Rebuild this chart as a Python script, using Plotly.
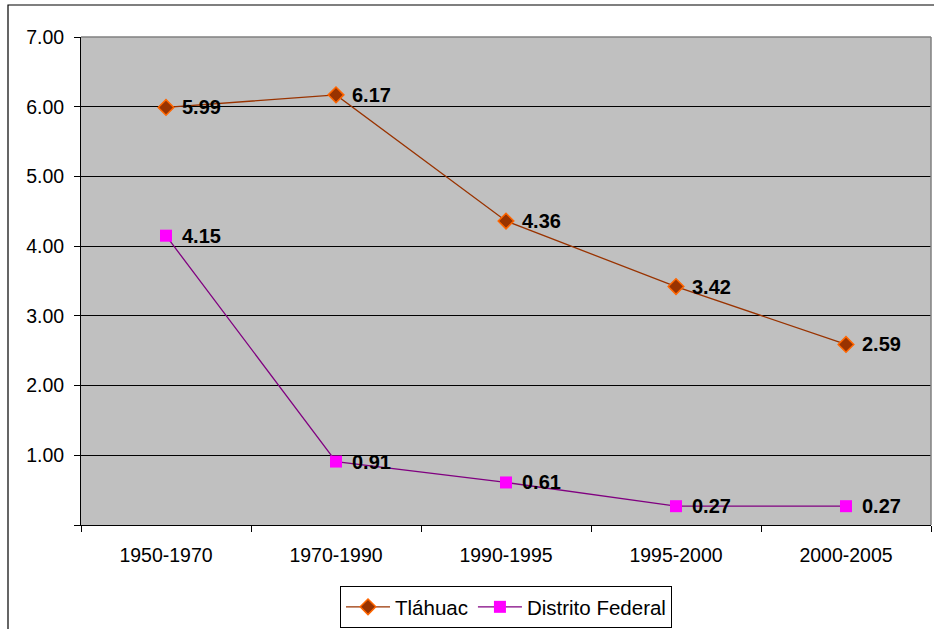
import plotly.graph_objects as go

categories = ["1950-1970", "1970-1990", "1990-1995", "1995-2000", "2000-2005"]
tlahuac = [5.99, 6.17, 4.36, 3.42, 2.59]
df = [4.15, 0.91, 0.61, 0.27, 0.27]
y_ticks = [0, 1, 2, 3, 4, 5, 6, 7]
y_tick_labels = ["", "1.00", "2.00", "3.00", "4.00", "5.00", "6.00", "7.00"]

FONT = "Liberation Sans, Arial, sans-serif"
FS = 19.5

fig = go.Figure()
fig.add_trace(go.Scatter(
    x=categories, y=tlahuac, name="Tláhuac", mode="lines+markers",
    line=dict(color="#993300", width=1.3),
    marker=dict(symbol="diamond", size=12, color="#993300",
                line=dict(color="#FF6600", width=1.5)),
    cliponaxis=False,
))
fig.add_trace(go.Scatter(
    x=categories, y=df, name="Distrito Federal", mode="lines+markers",
    line=dict(color="#800080", width=1.3),
    marker=dict(symbol="square", size=12, color="#FF00FF",
                line=dict(color="#FF00FF", width=0)),
    cliponaxis=False,
))

for series in (tlahuac, df):
    for c, v in zip(categories, series):
        fig.add_annotation(x=c, y=v, text=f"<b>{v:.2f}</b>", showarrow=False,
                           xanchor="left", yanchor="middle", xshift=14,
                           font=dict(family=FONT, size=20, color="black"))

fig.add_shape(type="rect", xref="paper", yref="paper",
              x0=(8 - 81) / 850, x1=1.05, y0=-0.3, y1=(525 - 5) / 488,
              line=dict(color="black", width=1.2), fillcolor="rgba(0,0,0,0)",
              layer="below")

fig.update_layout(
    width=934, height=629,
    margin=dict(l=81, r=3, t=37, b=104),
    paper_bgcolor="white", plot_bgcolor="#C0C0C0",
    font=dict(family=FONT, size=FS, color="black"),
    showlegend=True,
    legend=dict(orientation="h", xref="paper", x=0.5, xanchor="center",
                yref="container", y=1 - 586 / 629, yanchor="top",
                bordercolor="black", borderwidth=1, bgcolor="white",
                font=dict(family=FONT, size=20.5, color="black"),
                itemwidth=44, tracegroupgap=0),
    xaxis=dict(type="category", range=[-0.5, 4.5], showgrid=False, showline=True,
               linecolor="black", linewidth=1, ticks="outside",
               tickson="boundaries", ticklen=6, tickcolor="black",
               ticklabelstandoff=13, tickfont=dict(family=FONT, size=FS)),
    yaxis=dict(range=[0, 7], tickvals=y_ticks, ticktext=y_tick_labels,
               showgrid=True, gridcolor="black", gridwidth=1,
               showline=True, linecolor="black", linewidth=1,
               ticks="outside", ticklen=6, tickcolor="black",
               ticklabelstandoff=6,
               zeroline=False, tickfont=dict(family=FONT, size=FS)),
)
fig.add_shape(type="line", xref="paper", yref="paper", x0=0, x1=1, y0=1, y1=1,
              line=dict(color="#808080", width=1.5))
fig.add_shape(type="line", xref="paper", yref="paper", x0=1, x1=1, y0=0, y1=1,
              line=dict(color="#808080", width=1.5))

fig.write_html("out.html", config={"displayModeBar": False},
               post_script="document.body.style.margin='0';")
